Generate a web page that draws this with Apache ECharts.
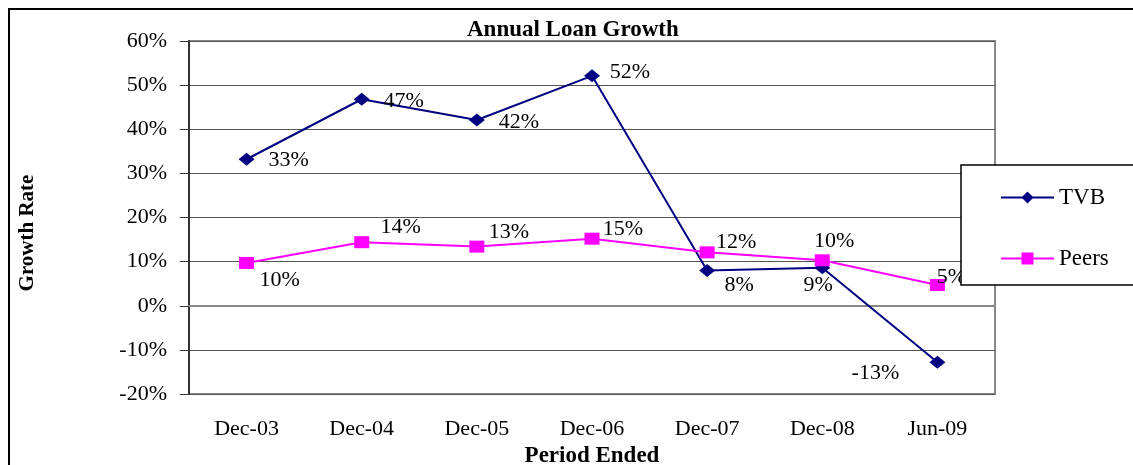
<!DOCTYPE html>
<html>
<head>
<meta charset="utf-8">
<script src="https://cdn.jsdelivr.net/npm/echarts@6/dist/echarts.min.js"></script>
<style>
  html, body { margin: 0; padding: 0; background: #fff; }
  #main { width: 1133px; height: 465px; }
</style>
</head>
<body>
<div id="main"></div>
<script>
var categories = ['Dec-03', 'Dec-04', 'Dec-05', 'Dec-06', 'Dec-07', 'Dec-08', 'Jun-09'];
var tvbValues = [33.2, 46.8, 42.1, 52.1, 8.0, 8.6, -12.8];
var peersValues = [9.7, 14.4, 13.4, 15.2, 12.1, 10.3, 4.7];
var yMin = -20, yMax = 60, yStep = 10;

// label offsets from each marker centre
var tvbOffsets = [[42, 1], [42, 2], [42, 2], [38, -4], [32, 15], [-4, 17], [-62, 11]];
var peersOffsets = [[33, 17], [39, -15], [32, -14], [31, -9], [29, -10], [12, -19], [14, -8]];

var FONT = 'Liberation Serif';
var myChart = echarts.init(document.getElementById('main'));

function withLabels(values, offsets) {
    return values.map(function (v, i) {
        return { value: v, label: { offset: offsets[i] } };
    });
}

var labelStyle = {
    show: true,
    position: 'inside',
    fontFamily: FONT,
    fontSize: 22,
    color: '#000',
    formatter: function (p) { return Math.round(p.value) + '%'; }
};

var option = {
    animation: false,
    title: {
        text: 'Annual Loan Growth',
        left: 462,
        top: 14,
        textStyle: { fontFamily: FONT, fontSize: 23, fontWeight: 'bold', color: '#000' }
    },
    graphic: [
        {
            type: 'rect', z: 0,
            shape: { x: 9, y: 9, width: 1300, height: 600 },
            style: { fill: 'none', stroke: '#000', lineWidth: 2 }
        },
        {
            type: 'rect', z: 50,
            shape: { x: 961, y: 165, width: 300, height: 120 },
            style: { fill: '#fff', stroke: '#000', lineWidth: 1.5 }
        },
        {
            type: 'text', z: 50,
            x: 28, y: 233, rotation: Math.PI / 2,
            style: {
                text: 'Growth Rate', fill: '#000',
                font: 'bold 21px "Liberation Serif"',
                align: 'center', verticalAlign: 'middle'
            }
        }
    ],
    legend: {
        z: 60,
        orient: 'vertical',
        left: 995,
        top: 181,
        itemWidth: 53,
        itemHeight: 15,
        itemGap: 38,
        data: ['TVB', 'Peers'],
        textStyle: { fontFamily: FONT, fontSize: 23, color: '#000' }
    },
    grid: {
        left: 189, right: 138, top: 41, bottom: 71,
        outerBoundsMode: 'none',
        show: true, borderColor: '#888', borderWidth: 2
    },
    xAxis: {
        type: 'category',
        data: categories,
        name: 'Period Ended',
        nameLocation: 'middle',
        nameGap: 46,
        nameTextStyle: { fontFamily: FONT, fontSize: 23, fontWeight: 'bold', color: '#000' },
        axisLine: { lineStyle: { color: '#888', width: 2 } },
        axisTick: { show: false },
        axisLabel: { fontFamily: FONT, fontSize: 22, color: '#000', margin: 24 }
    },
    yAxis: {
        type: 'value',
        min: yMin, max: yMax, interval: yStep,
        axisLine: { show: true, lineStyle: { color: '#333', width: 2 } },
        axisTick: { show: true, length: 9, lineStyle: { color: '#333', width: 1 } },
        axisLabel: { fontFamily: FONT, fontSize: 22, color: '#000', margin: 22, formatter: '{value}%' },
        splitLine: { lineStyle: { color: '#555', width: 1 } }
    },
    series: [
        {
            name: 'TVB',
            type: 'line',
            data: withLabels(tvbValues, tvbOffsets),
            symbol: 'diamond',
            symbolSize: [16, 13],
            itemStyle: { color: '#000080' },
            lineStyle: { color: '#000080', width: 2 },
            label: labelStyle
        },
        {
            name: 'Peers',
            type: 'line',
            data: withLabels(peersValues, peersOffsets),
            symbol: 'rect',
            symbolSize: [15, 12],
            itemStyle: { color: '#ff00ff' },
            lineStyle: { color: '#ff00ff', width: 2 },
            label: labelStyle
        }
    ]
};
myChart.setOption(option);
</script>
</body>
</html>
